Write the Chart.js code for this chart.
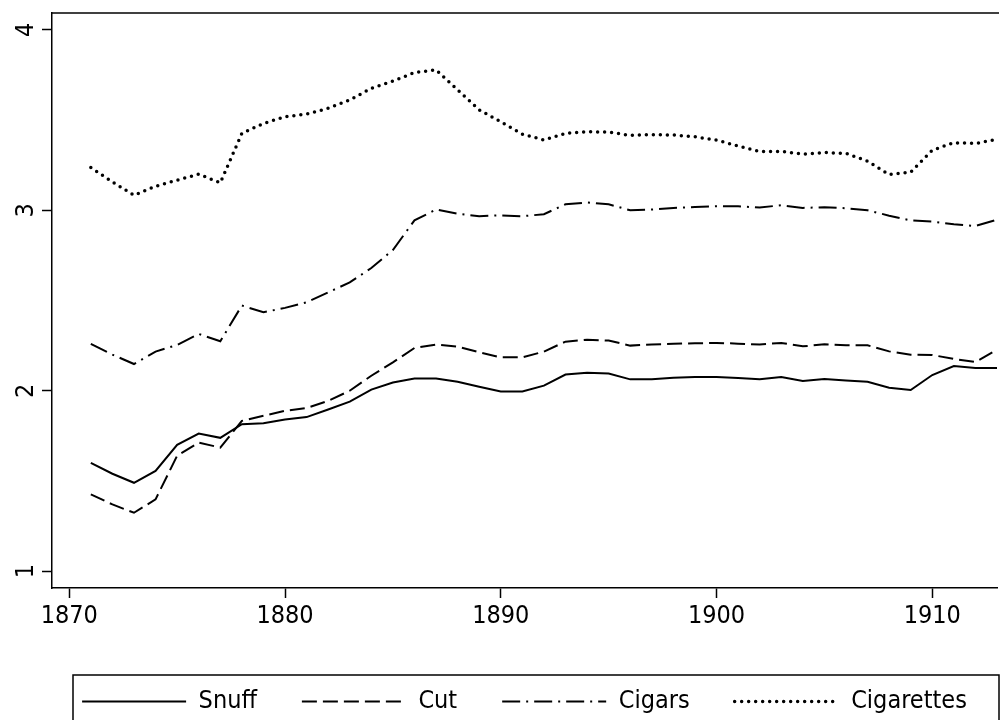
<!DOCTYPE html>
<html>
<head>
<meta charset="utf-8">
<script src="https://cdn.jsdelivr.net/npm/chart.js@4.4.1/dist/chart.umd.min.js"></script>
<style>
  html, body { margin: 0; padding: 0; background: #fff; }
  #wrap { width: 1000px; height: 720px; }
</style>
</head>
<body>
<div id="wrap"><canvas id="chart"></canvas></div>
<script>
// values, one per year 1871-1913
var years = [1871,1872,1873,1874,1875,1876,1877,1878,1879,1880,1881,1882,1883,1884,1885,
  1886,1887,1888,1889,1890,1891,1892,1893,1894,1895,1896,1897,1898,1899,1900,
  1901,1902,1903,1904,1905,1906,1907,1908,1909,1910,1911,1912,1913];

var snuff = [1.60,1.54,1.49,1.556,1.70,1.763,1.739,1.815,1.82,1.84,1.854,1.896,1.94,2.006,2.046,
  2.068,2.068,2.05,2.022,1.996,1.996,2.028,2.09,2.10,2.096,2.063,2.063,2.072,2.076,2.076,
  2.07,2.063,2.076,2.054,2.065,2.057,2.05,2.017,2.004,2.087,2.137,2.126,2.126];

var cut = [1.426,1.37,1.324,1.398,1.64,1.713,1.685,1.833,1.861,1.889,1.904,1.944,2.0,2.083,2.157,
  2.237,2.256,2.244,2.213,2.185,2.185,2.217,2.272,2.283,2.278,2.25,2.256,2.26,2.263,2.265,
  2.261,2.256,2.265,2.246,2.257,2.252,2.252,2.218,2.2,2.198,2.176,2.159,2.228];

var cigars = [2.26,2.2,2.148,2.217,2.254,2.315,2.274,2.472,2.435,2.459,2.49,2.545,2.60,2.68,2.78,
  2.944,3.004,2.981,2.967,2.972,2.967,2.978,3.033,3.043,3.033,3.0,3.004,3.013,3.018,3.022,
  3.022,3.015,3.028,3.013,3.017,3.011,3.0,2.97,2.944,2.937,2.922,2.913,2.948];

var cigarettes = [3.237,3.157,3.083,3.133,3.167,3.2,3.152,3.426,3.481,3.518,3.533,3.565,3.611,3.676,3.716,
  3.763,3.778,3.667,3.556,3.49,3.422,3.389,3.426,3.435,3.433,3.415,3.419,3.417,3.407,3.389,
  3.356,3.326,3.326,3.311,3.32,3.315,3.272,3.198,3.211,3.333,3.374,3.37,3.393];

var xTicks = [1870, 1880, 1890, 1900, 1910];
var yTicks = [1, 2, 3, 4];

var FONT = "'DejaVu Sans Condensed', 'DejaVu Sans', sans-serif";

function pts(vals) {
  return years.map(function (y, i) { return { x: y, y: vals[i] }; });
}

function series(label, vals, dash, width, cap) {
  return {
    label: label,
    data: pts(vals),
    borderColor: '#000',
    backgroundColor: '#000',
    borderWidth: width,
    borderDash: dash,
    borderCapStyle: cap,
    pointRadius: 0,
    tension: 0,
    fill: false
  };
}

// legend keys as short lines with the dataset's own dash
function legendLabels(chart) {
  var items = Chart.defaults.plugins.legend.labels.generateLabels(chart);
  items.forEach(function (it) {
    var ds = chart.data.datasets[it.datasetIndex];
    it.pointStyle = 'line';
    it.lineDash = ds.borderDash;
    it.lineWidth = ds.borderWidth;
    it.lineCap = ds.borderCapStyle;
    it.strokeStyle = '#000';
  });
  return items;
}

// frame on top of plot and box round the legend
var frames = {
  id: 'frames',
  afterLayout: function (chart) {
    // legend row sits a bit right of centre in the reference
    chart.legend.left += 26;
    chart.legend.right += 26;
  },
  afterDraw: function (chart) {
    var c = chart.ctx, a = chart.chartArea;
    c.save();
    c.strokeStyle = '#000';
    c.lineWidth = 1.5;
    c.beginPath();
    c.moveTo(a.left, a.top);
    c.lineTo(999, a.top);
    c.stroke();
    c.strokeRect(73, 675, 926, 50);
    c.restore();
  }
};

function noPad(s) {
  s.paddingTop = 0;
  s.paddingBottom = 0;
  s.paddingLeft = 0;
  s.paddingRight = 0;
}

Chart.defaults.font.family = FONT;
Chart.defaults.color = '#000';

new Chart(document.getElementById('chart'), {
  type: 'line',
  data: {
    datasets: [
      series('Snuff', snuff, [], 2, 'butt'),
      series('Cut', cut, [15, 6], 2, 'butt'),
      series('Cigars', cigars, [18, 6, 2, 6], 2, 'butt'),
      series('Cigarettes', cigarettes, [0, 7], 3.5, 'round')
    ]
  },
  options: {
    responsive: true,
    maintainAspectRatio: false,
    animation: false,
    layout: { padding: { top: 13, right: 3, left: 0, bottom: -4 } },
    plugins: {
      tooltip: { enabled: false },
      legend: {
        display: true,
        position: 'bottom',
        align: 'center',
        labels: {
          usePointStyle: true,
          pointStyleWidth: 104,
          boxWidth: 104,
          padding: 45,
          color: '#000',
          font: { size: 25, family: FONT },
          generateLabels: legendLabels
        }
      }
    },
    scales: {
      x: {
        type: 'linear',
        min: 1869.2,
        max: 1913,
        afterBuildTicks: function (s) { s.ticks = xTicks.map(function (v) { return { value: v }; }); },
        afterFit: function (s) { noPad(s); s.height += 10; },
        grid: { display: true, drawOnChartArea: false, drawTicks: true, tickLength: 10, tickColor: '#000', tickWidth: 1.5 },
        border: { display: true, color: '#000', width: 1.5 },
        ticks: { color: '#000', padding: 3, font: { size: 25 }, maxRotation: 0, callback: function (v) { return String(v); } }
      },
      y: {
        type: 'linear',
        min: 0.907,
        max: 4.093,
        afterBuildTicks: function (s) { s.ticks = yTicks.map(function (v) { return { value: v }; }); },
        afterFit: function (s) { s.width = 52; noPad(s); },
        grid: { display: true, drawOnChartArea: false, drawTicks: true, tickLength: 10, tickColor: '#000', tickWidth: 1.5 },
        border: { display: true, color: '#000', width: 1.5 },
        ticks: { color: '#000', padding: 8, crossAlign: 'center', minRotation: 90, maxRotation: 90, font: { size: 25 } }
      }
    }
  },
  plugins: [frames]
});
</script>
</body>
</html>
